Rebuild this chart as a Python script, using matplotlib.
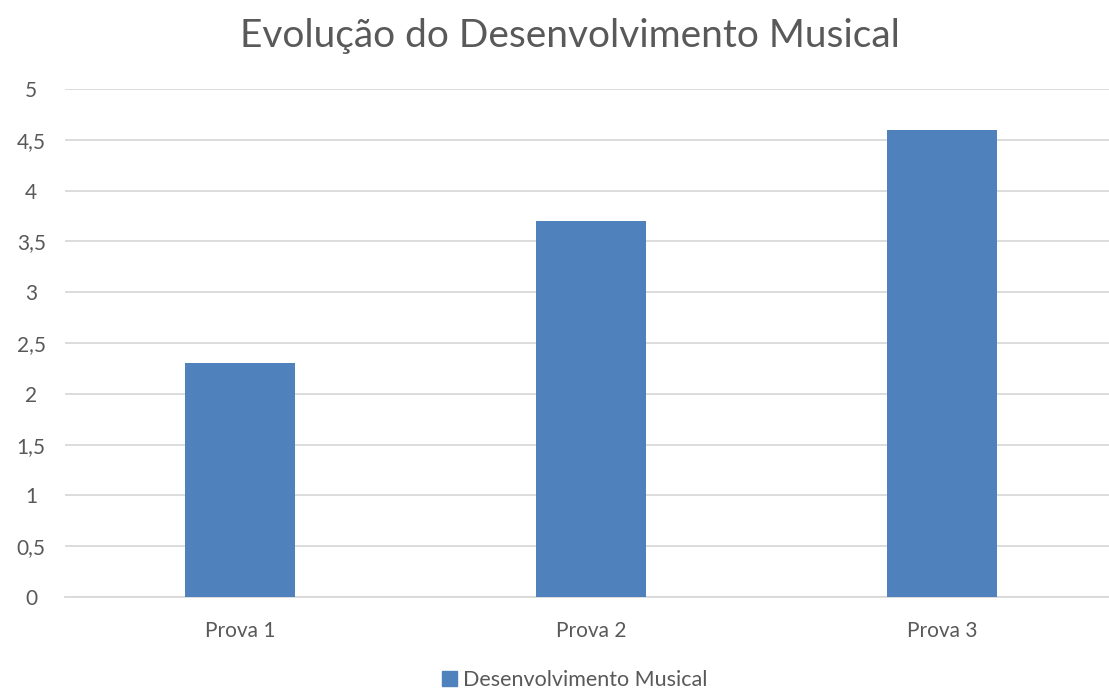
import matplotlib.pyplot as plt
from matplotlib.patches import Patch

categories = ['Prova 1', 'Prova 2', 'Prova 3']
values = [2.3, 3.7, 4.6]
yticks = [0, 0.5, 1, 1.5, 2, 2.5, 3, 3.5, 4, 4.5, 5]
series_name = 'Desenvolvimento Musical'

bar_color = '#4F81BD'
text_color = '#595959'
grid_color = '#D9D9D9'

plt.rcParams['font.family'] = ['Lato', 'DejaVu Sans']

fig = plt.figure(figsize=(11.09, 6.9), dpi=100)
ax = fig.add_axes([0.0582, 0.1348, 0.9495, 0.7362])

x = range(len(categories))
ax.bar(x, values, width=0.313, color=bar_color, zorder=3)

ax.set_xlim(-0.5, 2.5)
ax.set_ylim(0, 5)
ax.set_yticks(yticks)
ax.set_yticklabels([('%g' % t).replace('.', ',') for t in yticks])
ax.set_xticks(list(x))
ax.set_xticklabels(categories)
ax.tick_params(axis='both', length=0, labelsize=15, colors=text_color)
ax.tick_params(axis='y', pad=24)
ax.tick_params(axis='x', pad=17)
for lbl in ax.get_yticklabels():
    lbl.set_horizontalalignment('center')

ax.grid(axis='y', color=grid_color, linewidth=1.3, zorder=0)
for s in ['top', 'right', 'left']:
    ax.spines[s].set_visible(False)
ax.spines['bottom'].set_color(grid_color)
ax.spines['bottom'].set_linewidth(1.3)

fig.text(0.514, 0.948, 'Evolução do Desenvolvimento Musical', ha='center', va='center',
         fontsize=28, color=text_color)

fig.legend(handles=[Patch(color=bar_color, label=series_name)], loc='center',
           bbox_to_anchor=(0.518, 0.015), frameon=False, fontsize=15.5,
           handlelength=0.7, handleheight=0.7, handletextpad=0.3,
           labelcolor=text_color)

fig.savefig('out.png', dpi=100)
